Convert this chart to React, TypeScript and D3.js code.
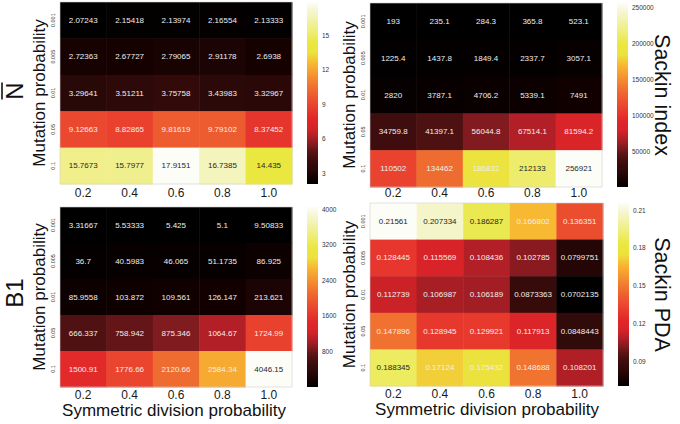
import React from "react";
import * as d3 from "d3";

const xCategories = ["0.2", "0.4", "0.6", "0.8", "1.0"];
const yCategories = ["0.001", "0.005", "0.01", "0.05", "0.1"];

const nBarValues = [
  [2.07243, 2.15418, 2.13974, 2.16554, 2.13333],
  [2.72363, 2.67727, 2.79065, 2.91178, 2.6938],
  [3.29641, 3.51211, 3.75758, 3.43983, 3.32967],
  [9.12663, 8.82865, 9.81619, 9.79102, 8.37452],
  [15.7673, 15.7977, 17.9151, 16.7385, 14.435],
];
const nBarLabels = [
  ["2.07243", "2.15418", "2.13974", "2.16554", "2.13333"],
  ["2.72363", "2.67727", "2.79065", "2.91178", "2.6938"],
  ["3.29641", "3.51211", "3.75758", "3.43983", "3.32967"],
  ["9.12663", "8.82865", "9.81619", "9.79102", "8.37452"],
  ["15.7673", "15.7977", "17.9151", "16.7385", "14.435"],
];
const nBarTicks = [3, 6, 9, 12, 15];

const sackinValues = [
  [193, 235.1, 284.3, 365.8, 523.1],
  [1225.4, 1437.8, 1849.4, 2337.7, 3057.1],
  [2820, 3787.1, 4706.2, 5339.1, 7491],
  [34759.8, 41397.1, 56044.8, 67514.1, 81594.2],
  [110502, 134462, 186832, 212133, 256921],
];
const sackinLabels = [
  ["193", "235.1", "284.3", "365.8", "523.1"],
  ["1225.4", "1437.8", "1849.4", "2337.7", "3057.1"],
  ["2820", "3787.1", "4706.2", "5339.1", "7491"],
  ["34759.8", "41397.1", "56044.8", "67514.1", "81594.2"],
  ["110502", "134462", "186832", "212133", "256921"],
];
const sackinTicks = [50000, 100000, 150000, 200000, 250000];

const b1Values = [
  [3.31667, 5.53333, 5.425, 5.1, 9.50833],
  [36.7, 40.5983, 46.065, 51.1735, 86.925],
  [85.9558, 103.872, 109.561, 126.147, 213.621],
  [666.337, 758.942, 875.346, 1064.67, 1724.99],
  [1500.91, 1776.66, 2120.66, 2584.34, 4046.15],
];
const b1Labels = [
  ["3.31667", "5.53333", "5.425", "5.1", "9.50833"],
  ["36.7", "40.5983", "46.065", "51.1735", "86.925"],
  ["85.9558", "103.872", "109.561", "126.147", "213.621"],
  ["666.337", "758.942", "875.346", "1064.67", "1724.99"],
  ["1500.91", "1776.66", "2120.66", "2584.34", "4046.15"],
];
const b1Ticks = [800, 1600, 2400, 3200, 4000];

const pdaValues = [
  [0.21561, 0.207334, 0.186287, 0.166802, 0.136351],
  [0.128445, 0.115569, 0.108436, 0.102785, 0.0799751],
  [0.112739, 0.106987, 0.106189, 0.0873363, 0.0702135],
  [0.147896, 0.128945, 0.129921, 0.117913, 0.0848443],
  [0.188345, 0.17124, 0.175432, 0.148688, 0.108201],
];
const pdaLabels = [
  ["0.21561", "0.207334", "0.186287", "0.166802", "0.136351"],
  ["0.128445", "0.115569", "0.108436", "0.102785", "0.0799751"],
  ["0.112739", "0.106987", "0.106189", "0.0873363", "0.0702135"],
  ["0.147896", "0.128945", "0.129921", "0.117913", "0.0848443"],
  ["0.188345", "0.17124", "0.175432", "0.148688", "0.108201"],
];
const pdaTicks = ["0.09", "0.12", "0.15", "0.18", "0.21"];

const colorStops: [number, string][] = [
  [0.0, "#000000"],
  [0.03, "#120000"],
  [0.08, "#2a0808"],
  [0.13, "#3c0c0c"],
  [0.17, "#521212"],
  [0.21, "#7a1a1e"],
  [0.26, "#b01f26"],
  [0.31, "#d82428"],
  [0.36, "#e2262a"],
  [0.42, "#e83e2e"],
  [0.48, "#ed5830"],
  [0.54, "#f07430"],
  [0.62, "#f6a030"],
  [0.67, "#f8bc32"],
  [0.72, "#ece23e"],
  [0.78, "#eae840"],
  [0.83, "#eeec70"],
  [0.9, "#f2f2a8"],
  [0.95, "#f6f6d0"],
  [1.0, "#fdfdf8"],
];

const cmap = d3
  .scaleLinear<string>()
  .domain(colorStops.map((s) => s[0]))
  .range(colorStops.map((s) => s[1]))
  .interpolate(d3.interpolateRgb)
  .clamp(true);

const FONT = "'Liberation Sans', Arial, Helvetica, sans-serif";

type PanelDef = {
  id: string;
  values: number[][];
  labels: string[][];
  ticks: (number | string)[];
  x0: number;
  x1: number;
  y0: number;
  y1: number;
  cbX: number;
  xTickY: number;
  showXTitle: boolean;
  xTitleX: number;
  xTitleY: number;
  yTitleX: number;
  yTickX: number;
};

const panels: PanelDef[] = [
  { id: "nbar", values: nBarValues, labels: nBarLabels, ticks: nBarTicks, x0: 60, x1: 292, y0: 2, y1: 184, cbX: 307, xTickY: 197, showXTitle: false, xTitleX: 0, xTitleY: 0, yTitleX: 45, yTickX: 55 },
  { id: "sackin", values: sackinValues, labels: sackinLabels, ticks: sackinTicks, x0: 370, x1: 602, y0: 3, y1: 187, cbX: 617, xTickY: 197, showXTitle: false, xTitleX: 0, xTitleY: 0, yTitleX: 355, yTickX: 365 },
  { id: "b1", values: b1Values, labels: b1Labels, ticks: b1Ticks, x0: 60, x1: 292, y0: 207, y1: 387, cbX: 307, xTickY: 399, showXTitle: true, xTitleX: 174, xTitleY: 416, yTitleX: 45, yTickX: 55 },
  { id: "pda", values: pdaValues, labels: pdaLabels, ticks: pdaTicks, x0: 370, x1: 603, y0: 203, y1: 386, cbX: 618, xTickY: 398, showXTitle: true, xTitleX: 487, xTitleY: 415, yTitleX: 355, yTickX: 365 },
];

function Panel({ p }: { p: PanelDef }) {
  const flat = p.values.flat();
  const [vmin, vmax] = d3.extent(flat) as [number, number];
  const norm = d3.scaleLinear().domain([vmin, vmax]).range([0, 1]);
  const xs = d3.scaleBand<string>().domain(xCategories).range([p.x0, p.x1]);
  const ys = d3.scaleBand<string>().domain(yCategories).range([p.y0, p.y1]);
  const cbScale = d3.scaleLinear().domain([vmin, vmax]).range([p.y1, p.y0]);
  const cbW = 11;
  const gradId = "grad-" + p.id;
  const stops = d3.range(0, 1.0001, 0.02);
  return (
    <g>
      <defs>
        <linearGradient id={gradId} x1="0" y1="1" x2="0" y2="0">
          {stops.map((t, i) => (
            <stop key={i} offset={t} stopColor={cmap(t)} />
          ))}
        </linearGradient>
      </defs>
      {p.values.map((row, ri) =>
        row.map((v, ci) => (
          <rect
            key={ri + "-" + ci}
            x={xs(xCategories[ci])!}
            y={ys(yCategories[ri])!}
            width={xs.bandwidth() + 0.5}
            height={ys.bandwidth() + 0.5}
            fill={cmap(norm(v))}
          />
        ))
      )}
      <rect x={p.x0} y={p.y0} width={p.x1 - p.x0} height={p.y1 - p.y0} fill="none" stroke="#cfcfcf" strokeWidth={0.6} />
      {p.values.map((row, ri) =>
        row.map((v, ci) => (
          <text
            key={"t" + ri + "-" + ci}
            x={xs(xCategories[ci])! + xs.bandwidth() / 2}
            y={ys(yCategories[ri])! + ys.bandwidth() / 2}
            textAnchor="middle"
            dominantBaseline="central"
            fontSize={8}
            fontFamily={FONT}
            fill={norm(v) > 0.75 ? "#262626" : "#eeeeee"}
          >
            {p.labels[ri][ci]}
          </text>
        ))
      )}
      {xCategories.map((c) => (
        <text key={"xt" + c} x={xs(c)! + xs.bandwidth() / 2} y={p.xTickY} textAnchor="middle" fontSize={12} fontFamily={FONT} fill="#1a1a1a">
          {c}
        </text>
      ))}
      {yCategories.map((c) => (
        <text
          key={"yt" + c}
          transform={`translate(${p.yTickX},${ys(c)! + ys.bandwidth() / 2}) rotate(-90)`}
          textAnchor="middle"
          fontSize={5.5}
          fontFamily={FONT}
          fill="#333"
        >
          {c}
        </text>
      ))}
      <text
        transform={`translate(${p.yTitleX},${(p.y0 + p.y1) / 2}) rotate(-90)`}
        textAnchor="middle"
        fontSize={17}
        fontFamily={FONT}
        fill="#111"
      >
        Mutation probability
      </text>
      {p.showXTitle && (
        <text x={p.xTitleX} y={p.xTitleY} textAnchor="middle" fontSize={17} fontFamily={FONT} fill="#111">
          Symmetric division probability
        </text>
      )}
      <rect x={p.cbX} y={p.y0} width={cbW} height={p.y1 - p.y0} fill={`url(#${gradId})`} />
      {p.ticks.map((t) => (
        <text
          key={"cb" + t}
          x={p.cbX + cbW + 4}
          y={cbScale(+t)}
          dominantBaseline="central"
          fontSize={6.5}
          fontFamily={FONT}
          fill="#333"
        >
          {String(t)}
        </text>
      ))}
    </g>
  );
}

export default function App() {
  return (
    <svg width={680} height={424} style={{ position: "absolute", left: 0, top: 0, background: "#fff" }}>
      <rect x={0} y={0} width={680} height={424} fill="#fff" />
      {panels.map((p) => (
        <Panel key={p.id} p={p} />
      ))}
      <g transform="translate(23,91) rotate(-90)">
        <text x={0} y={0} textAnchor="middle" fontSize={24} fontFamily={FONT} fill="#111">
          N
        </text>
        <line x1={-8.5} x2={8.5} y1={-21} y2={-21} stroke="#111" strokeWidth={1.6} />
      </g>
      <text transform="translate(23,293) rotate(-90)" textAnchor="middle" fontSize={24} fontFamily={FONT} fill="#111">
        B1
      </text>
      <text transform="translate(655,95) rotate(90)" textAnchor="middle" fontSize={21.5} fontFamily={FONT} fill="#111">
        Sackin index
      </text>
      <text transform="translate(655,294.5) rotate(90)" textAnchor="middle" fontSize={21.5} fontFamily={FONT} fill="#111">
        Sackin PDA
      </text>
    </svg>
  );
}
